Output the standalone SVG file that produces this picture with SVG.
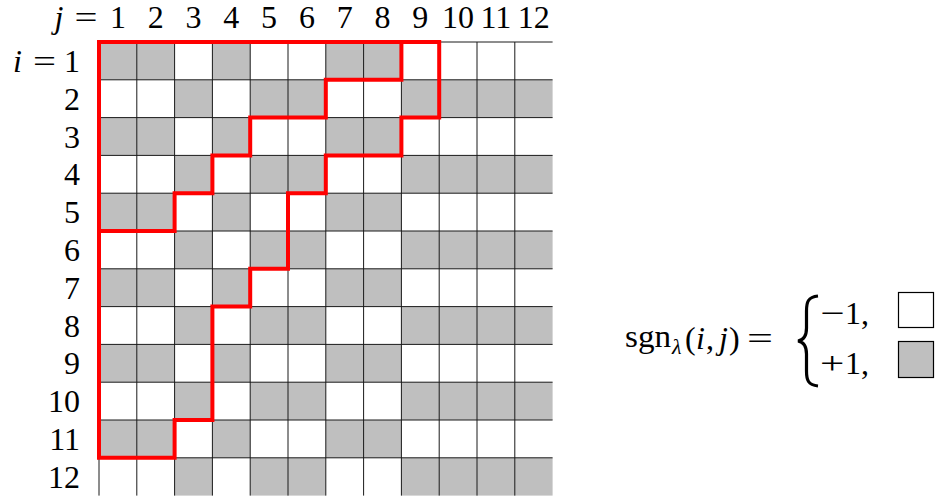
<svg xmlns="http://www.w3.org/2000/svg" width="940" height="500" viewBox="0 0 940 500">
<style>
.t{font-family:"Liberation Serif","Times New Roman",serif;font-size:32px;fill:#000}
.it{font-style:italic}
.g{fill:#bfbfbf}
.gl{stroke:#1a1a1a;stroke-width:1;fill:none}
.red{stroke:#ff0000;stroke-width:4;fill:none;stroke-linejoin:miter;stroke-linecap:square}
</style>
<defs>
<g id="oddrow">
<rect class="g" x="99" y="0" width="75.6" height="37.8"/>
<rect class="g" x="212.4" y="0" width="37.8" height="37.8"/>
<rect class="g" x="325.8" y="0" width="75.6" height="37.8"/>
</g>
<g id="evenrow">
<rect class="g" x="174.6" y="0" width="37.8" height="37.8"/>
<rect class="g" x="250.2" y="0" width="75.6" height="37.8"/>
<rect class="g" x="401.4" y="0" width="151.2" height="37.8"/>
</g>
</defs>
<rect x="0" y="0" width="940" height="500" fill="#fff"/>
<g id="cells">
<use href="#oddrow" y="42"/>
<use href="#evenrow" y="79.8"/>
<use href="#oddrow" y="117.6"/>
<use href="#evenrow" y="155.4"/>
<use href="#oddrow" y="193.2"/>
<use href="#evenrow" y="231"/>
<use href="#oddrow" y="268.8"/>
<use href="#evenrow" y="306.6"/>
<use href="#oddrow" y="344.4"/>
<use href="#evenrow" y="382.2"/>
<use href="#oddrow" y="420"/>
<use href="#evenrow" y="457.8"/>
</g>
<g id="gridlines" class="gl">
<path d="M99,42H552.6M99,79.8H552.6M99,117.6H552.6M99,155.4H552.6M99,193.2H552.6M99,231H552.6M99,268.8H552.6M99,306.6H552.6M99,344.4H552.6M99,382.2H552.6M99,420H552.6M99,457.8H552.6"/>
<path d="M99,42V495.6M136.8,42V495.6M174.6,42V495.6M212.4,42V495.6M250.2,42V495.6M288,42V495.6M325.8,42V495.6M363.6,42V495.6M401.4,42V495.6M439.2,42V495.6M477,42V495.6M514.8,42V495.6"/>
</g>
<g id="connectors">
<path id="outer" class="red" d="M99,42H439.2V117.6H401.4V155.4H325.8V193.2H288V268.8H250.2V306.6H212.4V420H174.6V457.8H99Z"/>
<path id="inner" class="red" d="M401.4,42V79.8H325.8V117.6H250.2V155.4H212.4V193.2H174.6V231H99"/>
</g>
<g id="colLabels" class="t" text-anchor="middle">
<text x="59" y="28" class="it">j</text>
<text x="86" y="28" textLength="23" lengthAdjust="spacingAndGlyphs">=</text>
<text x="117.9" y="28">1</text>
<text x="155.7" y="28">2</text>
<text x="193.5" y="28">3</text>
<text x="231.3" y="28">4</text>
<text x="269.1" y="28">5</text>
<text x="306.9" y="28">6</text>
<text x="344.7" y="28">7</text>
<text x="382.5" y="28">8</text>
<text x="420.3" y="28">9</text>
<text x="458.1" y="28">10</text>
<text x="495.9" y="28">11</text>
<text x="533.7" y="28">12</text>
</g>
<g id="rowLabels" class="t" text-anchor="end">
<text x="22" y="72" class="it">i</text>
<text x="56" y="72" textLength="23" lengthAdjust="spacingAndGlyphs">=</text>
<text x="80" y="72">1</text>
<text x="80" y="109.7">2</text>
<text x="80" y="147.5">3</text>
<text x="80" y="185.3">4</text>
<text x="80" y="223.1">5</text>
<text x="80" y="260.9">6</text>
<text x="80" y="298.7">7</text>
<text x="80" y="336.5">8</text>
<text x="80" y="374.3">9</text>
<text x="80" y="412.1">10</text>
<text x="80" y="449.9">11</text>
<text x="80" y="487.7">12</text>
</g>
<g id="legend">
<text class="t" x="625" y="347" textLength="46" lengthAdjust="spacingAndGlyphs">sgn</text>
<text class="t it" x="672" y="354" style="font-size:22px">λ</text>
<text class="t" y="349"><tspan x="685">(</tspan><tspan x="696" class="it">i</tspan><tspan x="706">,</tspan><tspan x="719" class="it">j</tspan><tspan x="729">)</tspan></text>
<text class="t" x="747" y="349" textLength="26" lengthAdjust="spacingAndGlyphs">=</text>
<path d="M818,296 C808,297 806.5,302 806.5,311 L806.5,328 C806.5,336 804,340 798,341 C804,342 806.5,346 806.5,354 L806.5,371 C806.5,380 808,385 818,386" fill="none" stroke="#000" stroke-width="3.2"/>
<text class="t" transform="translate(820,324) scale(1.35,1)">−</text>
<text class="t" x="845" y="324">1,</text>
<text class="t" transform="translate(820,374) scale(1.35,1)">+</text>
<text class="t" x="845" y="374">1,</text>
<rect x="898.5" y="292.5" width="35" height="35" fill="#fff" stroke="#000" stroke-width="1.2"/>
<rect x="898.5" y="341.5" width="35" height="36" fill="#bfbfbf" stroke="#000" stroke-width="1.2"/>
</g>
</svg>
